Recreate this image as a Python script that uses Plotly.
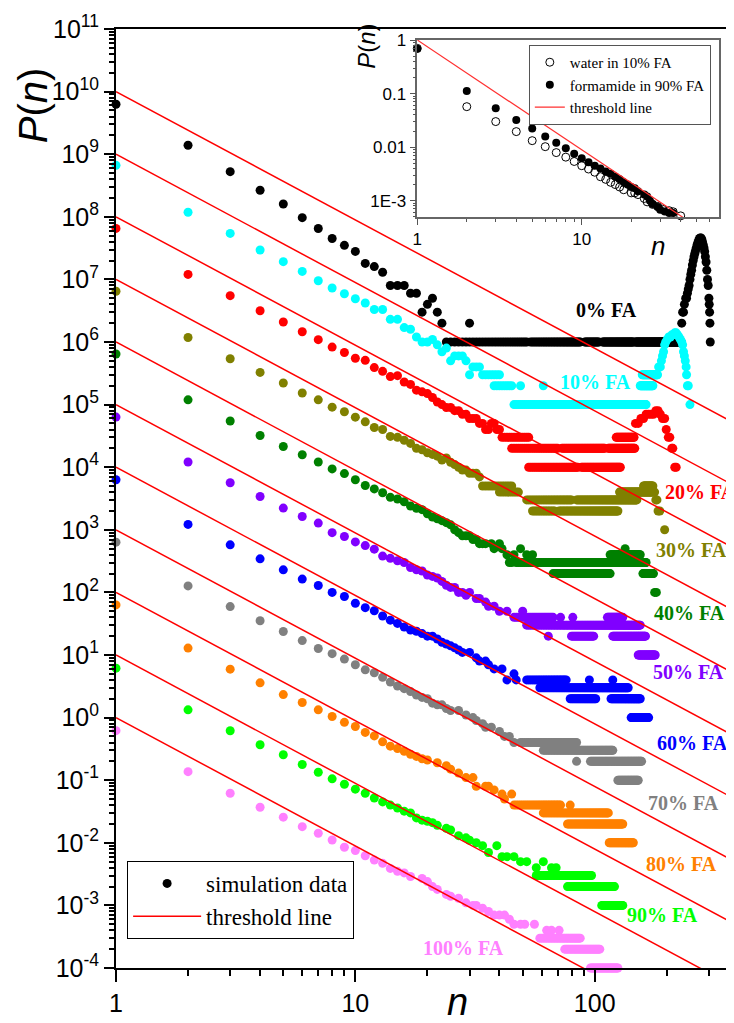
import plotly.graph_objects as go

# ---------------- data ----------------
series_labels = ["0% FA", "10% FA", "20% FA", "30% FA", "40% FA", "50% FA",
                 "60% FA", "70% FA", "80% FA", "90% FA", "100% FA"]
series_colors = ["#000000", "#00FFFF", "#FF0000", "#808000", "#008000", "#8000FF",
                 "#0000FF", "#808080", "#FF8000", "#00FF00", "#FF80FF"]
offset_decades = [10, 9, 8, 7, 6, 5, 4, 3, 2, 1, 0]   # vertical shift of each curve
threshold_exponent = 2.05
threshold_n_span = [1, 500]

# P(n) for n = 1, 2, 3, ... (head of each distribution)
head_00 = [0.627, 0.139, 0.0526, 0.0265, 0.0160, 0.0097, 0.0065, 0.0045, 0.0035, 0.0028,
           0.0018, 0.0016, 0.0013, 0.0008, 0.0008, 0.0008, 0.0006, 0.0006, 0.0003, 0.0004,
           0.0005, 0.0003, 0.0002]
head_10 = [0.664, 0.118, 0.0543, 0.0295, 0.0192, 0.0134, 0.0095, 0.0073, 0.0059, 0.0049,
           0.0042, 0.0033, 0.0033, 0.0023, 0.0023, 0.0017, 0.0016, 0.0012, 0.0010, 0.0010,
           0.0011, 0.0009, 0.0007, 0.0008, 0.0005, 0.0006, 0.0006, 0.0006, 0.0005, 0.0003]
head_20 = [0.653, 0.120, 0.055, 0.0316, 0.0209, 0.0146, 0.0109, 0.0083, 0.0068, 0.0055,
           0.0051, 0.0039, 0.0034, 0.0028, 0.0029, 0.0023, 0.0021, 0.0017, 0.0016, 0.0015,
           0.0013, 0.0011, 0.0010, 0.0009, 0.0009, 0.0008, 0.0008, 0.0007, 0.0007, 0.0006,
           0.0006, 0.0006, 0.0005, 0.0005, 0.0004, 0.0004, 0.0005, 0.0005, 0.0004, 0.0004]
head_30 = [0.646, 0.118, 0.054, 0.0327, 0.0221, 0.0153, 0.0119, 0.0091, 0.0077, 0.0063,
           0.0053, 0.0043, 0.0040, 0.0031, 0.0030, 0.0027, 0.0024, 0.0020, 0.0019, 0.0017,
           0.0016, 0.0015, 0.0013, 0.0014, 0.0012, 0.0011, 0.0010, 0.0009, 0.0009, 0.0008,
           0.0008, 0.0008, 0.0007]
head_40 = [0.643, 0.119, 0.0546, 0.0321, 0.0214, 0.0158, 0.0121, 0.0094, 0.0079, 0.0063,
           0.0051, 0.0045, 0.0039, 0.0033, 0.0031, 0.0028, 0.0024, 0.0022, 0.0021, 0.0018,
           0.0016, 0.0015, 0.0014, 0.0013, 0.0012, 0.0010, 0.0009, 0.0008, 0.0008, 0.0008,
           0.0007, 0.0007, 0.0006, 0.0006, 0.0006]
head_50 = [0.632, 0.121, 0.0564, 0.0340, 0.0222, 0.0163, 0.0128, 0.0090, 0.0078, 0.0064,
           0.0056, 0.0049, 0.0038, 0.0035, 0.0032, 0.0030, 0.0025, 0.0023, 0.0022, 0.0019,
           0.0018, 0.0017, 0.0015, 0.0013, 0.0012, 0.0012, 0.0010, 0.0010, 0.0009, 0.0010]
head_60 = [0.630, 0.122, 0.0575, 0.0344, 0.0229, 0.0163, 0.0129, 0.0100, 0.0086, 0.0067,
           0.0057, 0.0051, 0.0042, 0.0036, 0.0032, 0.0028, 0.0025, 0.0024, 0.0022, 0.0020,
           0.0020, 0.0018, 0.0016, 0.0015, 0.0014, 0.0013, 0.0012, 0.0011]
head_70 = [0.635, 0.127, 0.0594, 0.0352, 0.0237, 0.0170, 0.0127, 0.0105, 0.0086, 0.0070,
           0.0058, 0.0052, 0.0044, 0.0037, 0.0032, 0.0029, 0.0026, 0.0023, 0.0021, 0.0020,
           0.0017, 0.0016, 0.0016, 0.0014, 0.0013]
head_80 = [0.632, 0.129, 0.0594, 0.0359, 0.0233, 0.0174, 0.0133, 0.0104, 0.0084, 0.0072,
           0.0058, 0.0051, 0.0041, 0.0035, 0.0032, 0.0029, 0.0026, 0.0024, 0.0022, 0.0021]
head_90 = [0.617, 0.133, 0.0617, 0.0368, 0.0255, 0.0178, 0.0134, 0.0105, 0.0086, 0.0072,
           0.0062, 0.0052, 0.0045, 0.0040, 0.0036, 0.0032, 0.0030, 0.0025, 0.0023, 0.0022,
           0.0021, 0.0019]
head_100 = [0.619, 0.137, 0.0619, 0.0370, 0.0257, 0.0181, 0.0142, 0.0111, 0.0085, 0.0075,
            0.0062, 0.0053, 0.0047, 0.0039, 0.0035, 0.0033, 0.0029]

# isolated (n, P) points of the tails
points_00 = [(30, 2e-4), (231, 2e-4), (233, 3e-4), (235, 3e-4), (237, 4e-4), (240, 5e-4),
             (242, 5e-4), (244, 6e-4), (246, 7e-4), (248, 8e-4), (250, 1.0e-3), (252, 1.2e-3),
             (254, 1.4e-3), (256, 1.7e-3), (258, 2.0e-3), (260, 2.3e-3), (262, 2.6e-3),
             (264, 2.9e-3), (266, 3.2e-3), (268, 3.6e-3), (270, 3.9e-3), (272, 4.2e-3),
             (274, 4.5e-3), (276, 4.6e-3), (278, 4.6e-3), (280, 4.4e-3), (282, 4.0e-3),
             (284, 3.6e-3), (286, 3.2e-3), (288, 2.8e-3), (290, 2.3e-3), (292, 1.9e-3),
             (294, 1.4e-3), (296, 1.0e-3), (298, 8e-4), (300, 5e-4), (301, 4e-4), (302, 3e-4),
             (303, 2e-4), (304, 1e-4)]
points_10 = [(31, 4e-4), (32, 4e-4), (33, 4e-4), (49, 2e-4), (61, 2e-4), (185, 4e-4),
             (188, 4e-4), (190, 5e-4), (192, 6e-4), (194, 7e-4), (196, 9e-4), (198, 1.0e-3),
             (201, 1.1e-3), (204, 1.2e-3), (207, 1.2e-3), (210, 1.3e-3), (213, 1.3e-3),
             (216, 1.4e-3), (219, 1.4e-3), (222, 1.3e-3), (225, 1.2e-3), (228, 1.1e-3),
             (231, 1.0e-3), (233, 9e-4), (235, 7e-4), (237, 6e-4), (239, 5e-4), (241, 4e-4),
             (242, 3e-4), (244, 2e-4), (246, 2e-4), (250, 1e-4)]
points_20 = [(148, 5e-4), (152, 5e-4), (156, 6e-4), (160, 6e-4), (164, 7e-4), (168, 7e-4),
             (172, 7e-4), (176, 7e-4), (180, 8e-4), (184, 8e-4), (188, 7e-4), (192, 6e-4),
             (196, 6e-4), (199, 4e-4), (203, 3e-4), (206, 3e-4), (210, 2e-4), (212, 2e-4),
             (216, 1e-4), (219, 1e-4)]
points_30 = [(178, 4e-4), (180, 3e-4), (182, 3e-4), (184, 2e-4), (187, 2e-4), (196, 1e-4)]
points_40 = [(37, 6e-4), (38, 5e-4), (40, 6e-4), (41, 5e-4), (43, 4e-4), (44, 3e-4),
             (45, 3e-4), (46, 4e-4), (49, 5e-4), (52, 4e-4), (55, 4e-4), (134, 5e-4),
             (178, 1e-4), (181, 1e-4)]
points_50 = [(32, 8e-4), (33, 8e-4), (35, 7e-4), (36, 6e-4), (38, 6e-4), (40, 5e-4),
             (43, 5e-4), (50, 5e-4), (64, 2e-4), (72, 4e-4), (81, 4e-4)]
points_60 = [(30, 0.0011), (32, 9e-4), (33, 8e-4), (35, 8e-4), (36, 7e-4), (38, 6e-4),
             (41, 6e-4), (43, 4e-4), (46, 5e-4), (47, 4e-4), (95, 4e-4), (119, 4e-4)]
points_70 = [(27, 0.0013), (29, 0.0011), (31, 0.0010), (32, 9e-4), (34, 8e-4), (35, 7e-4),
             (37, 7e-4), (40, 6e-4), (42, 5e-4), (44, 5e-4), (46, 4e-4), (84, 2e-4)]
points_80 = [(22, 0.0019), (24, 0.0017), (25, 0.0015), (27, 0.0013), (29, 0.0011),
             (31, 0.0011), (32, 8e-4), (35, 8e-4), (36, 8e-4), (38, 7e-4), (41, 6e-4),
             (42, 5e-4), (45, 6e-4), (79, 4e-4)]
points_90 = [(24, 0.0017), (25, 0.0016), (27, 0.0013), (29, 0.0012), (30, 0.0011),
             (32, 0.0010), (34, 9e-4), (36, 7e-4), (39, 9e-4), (41, 6e-4), (43, 6e-4),
             (46, 6e-4), (49, 5e-4), (52, 5e-4), (57, 4e-4), (61, 5e-4), (66, 4e-4), (69, 4e-4)]
points_100 = [(19, 0.0027), (20, 0.0024), (21, 0.0020), (22, 0.0018), (24, 0.0015),
              (25, 0.0014), (27, 0.0013), (29, 0.0011), (31, 0.0010), (32, 0.0010),
              (34, 9e-4), (36, 8e-4), (38, 7e-4), (40, 7e-4), (42, 7e-4), (44, 6e-4),
              (46, 5e-4), (49, 5e-4), (51, 5e-4), (56, 5e-4), (63, 4e-4), (66, 4e-4), (71, 4e-4)]

# plateaus: every n from first to last has the same P (first, last, P)
plateaus_00 = [(24, 33, 1e-4), (34, 52, 1e-4), (54, 87, 1e-4), (91, 104, 1e-4),
               (108, 145, 1e-4), (148, 230, 1e-4)]
plateaus_10 = [(34, 40, 3e-4), (38, 45, 2e-4), (46, 164, 1e-4), (155, 175, 2e-4),
               (158, 183, 3e-4)]
plateaus_20 = [(41, 53, 3e-4), (45, 70, 2e-4), (73, 110, 2e-4), (114, 147, 2e-4),
               (53, 85, 1e-4), (88, 128, 1e-4), (123, 146, 3e-4)]
plateaus_30 = [(34, 45, 5e-4), (40, 48, 4e-4), (52, 80, 3e-4), (84, 150, 3e-4),
               (55, 68, 2e-4), (71, 125, 2e-4), (127, 175, 4e-4), (160, 175, 5e-4)]
plateaus_40 = [(47, 164, 3e-4), (116, 155, 4e-4), (67, 116, 2e-4), (159, 176, 2e-4)]
plateaus_50 = [(46, 67, 4e-4), (113, 131, 4e-4), (52, 155, 3e-4), (80, 99, 2e-4),
               (119, 163, 2e-4), (152, 179, 1e-4)]
plateaus_60 = [(52, 76, 4e-4), (59, 138, 3e-4), (79, 101, 2e-4), (117, 155, 2e-4),
               (142, 168, 1e-4)]
plateaus_70 = [(49, 84, 4e-4), (61, 119, 3e-4), (96, 157, 2e-4), (125, 152, 1e-4)]
plateaus_80 = [(46, 72, 4e-4), (61, 114, 3e-4), (77, 131, 2e-4), (115, 145, 1e-4)]
plateaus_90 = [(57, 97, 3e-4), (77, 121, 2e-4), (107, 131, 1e-4)]
plateaus_100 = [(59, 87, 3e-4), (75, 105, 2e-4), (96, 125, 1e-4)]

# inset: cluster size distributions of single components
inset_n_water = [1, 2, 3, 4, 5, 6, 7, 8, 9, 10, 11, 12, 13, 14, 15, 16, 17, 18, 20, 21,
                 22, 24, 25, 27, 29, 31, 34, 36, 40]
inset_p_water = [0.70, 0.057, 0.030, 0.0195, 0.0132, 0.0102, 0.0079, 0.0065, 0.0054, 0.0045,
                 0.0039, 0.0034, 0.0028, 0.0025, 0.0022, 0.0020, 0.0018, 0.0016, 0.0014,
                 0.0014, 0.0013, 0.0011, 0.00095, 0.00085, 0.00078, 0.00069, 0.00065,
                 0.00062, 0.00052]
inset_n_formamide = [1, 2, 3, 4, 5, 6, 7, 8, 9, 10, 11, 12, 13, 14, 15, 16, 17, 18, 19, 20,
                     21, 22, 24, 25, 26, 27, 29, 30, 32, 34, 36]
inset_p_formamide = [0.687, 0.112, 0.053, 0.032, 0.0224, 0.0158, 0.0121, 0.0095, 0.0075,
                     0.0062, 0.0052, 0.0045, 0.0040, 0.0035, 0.0032, 0.0028, 0.0025, 0.0022,
                     0.0020, 0.0018, 0.0017, 0.0015, 0.0013, 0.0012, 0.0010, 0.00087,
                     0.00076, 0.00068, 0.00063, 0.00059, 0.00059]

y_tick_exponents = list(range(-4, 12))

# ---------------- figure ----------------
heads = [head_00, head_10, head_20, head_30, head_40, head_50, head_60, head_70, head_80,
         head_90, head_100]
points = [points_00, points_10, points_20, points_30, points_40, points_50, points_60,
          points_70, points_80, points_90, points_100]
plateaus = [plateaus_00, plateaus_10, plateaus_20, plateaus_30, plateaus_40, plateaus_50,
            plateaus_60, plateaus_70, plateaus_80, plateaus_90, plateaus_100]

fig = go.Figure()

for k in range(len(series_labels)):
    ns = list(range(1, len(heads[k]) + 1))
    ps = list(heads[k])
    for n, p in points[k]:
        ns.append(n)
        ps.append(p)
    for a, b, p in plateaus[k]:
        for n in range(a, b + 1):
            ns.append(n)
            ps.append(p)
    scale = 10.0 ** offset_decades[k]
    fig.add_trace(go.Scatter(
        x=ns, y=[p * scale for p in ps], mode="markers",
        marker=dict(size=9, color=series_colors[k], line=dict(width=0)),
        name="simulation data" if k == 0 else series_labels[k],
        showlegend=(k == 0), legend="legend", cliponaxis=False,
        xaxis="x", yaxis="y"))

tx, ty = [], []
for k in range(len(series_labels)):
    for n in threshold_n_span:
        tx.append(n)
        ty.append(10.0 ** offset_decades[k] * n ** (-threshold_exponent))
    tx.append(None)
    ty.append(None)
fig.add_trace(go.Scatter(x=tx, y=ty, mode="lines", line=dict(color="#FF0000", width=1.5),
                         name="threshold line", legend="legend", xaxis="x", yaxis="y"))

# inset traces
fig.add_trace(go.Scatter(x=inset_n_water, y=inset_p_water, mode="markers",
                         marker=dict(symbol="circle-open", size=8, color="black",
                                     line=dict(width=1, color="black")),
                         name="water in 10% FA", legend="legend2", xaxis="x2", yaxis="y2",
                         cliponaxis=False))
fig.add_trace(go.Scatter(x=inset_n_formamide, y=inset_p_formamide, mode="markers",
                         marker=dict(size=8, color="black"),
                         name="formamide in 90% FA", legend="legend2", xaxis="x2", yaxis="y2",
                         cliponaxis=False))
fig.add_trace(go.Scatter(x=threshold_n_span, y=[n ** (-threshold_exponent) for n in threshold_n_span],
                         mode="lines", line=dict(color="#FF3030", width=1.2),
                         name="threshold line", legend="legend2", xaxis="x2", yaxis="y2"))

sans = "Liberation Sans, Arial, sans-serif"
serif = "Liberation Serif, Times New Roman, serif"

fig.update_layout(
    width=726, height=1015,
    margin=dict(l=108, r=0, t=21, b=55),
    paper_bgcolor="white", plot_bgcolor="white",
    xaxis=dict(type="log", range=[0, 2.582], tickvals=[1, 10, 100], ticktext=["1", "10", "100"],
               ticks="outside", ticklen=12, tickwidth=2, tickcolor="black",
               showline=True, linewidth=2, linecolor="black", mirror=True,
               showgrid=False, zeroline=False,
               tickfont=dict(family=sans, size=25, color="black"),
               minor=dict(ticks="outside", ticklen=6, tickwidth=1.5, tickcolor="black",
                          tickmode="linear", dtick="D1", showgrid=False)),
    yaxis=dict(type="log", range=[-4, 11],
               tickvals=[10.0 ** e for e in y_tick_exponents],
               ticktext=["10<sup>%d</sup>" % e for e in y_tick_exponents],
               ticks="outside", ticklen=10, tickwidth=2, tickcolor="black",
               showline=True, linewidth=2, linecolor="black", mirror=False,
               showgrid=False, zeroline=False,
               tickfont=dict(family=sans, size=25, color="black"),
               minor=dict(ticks="outside", ticklen=5, tickwidth=1.5, tickcolor="black",
                          tickmode="linear", dtick="D1", showgrid=False)),
    xaxis2=dict(type="log", domain=[0.4875, 0.9763], anchor="y2", range=[0, 1.837],
                tickvals=[1, 10], ticktext=["1", "10"],
                ticks="outside", ticklen=6, tickwidth=1, tickcolor="#555555",
                showline=True, linewidth=1.5, linecolor="#666666", mirror=True,
                showgrid=False, zeroline=False,
                tickfont=dict(family=sans, size=17, color="black"),
                minor=dict(ticks="outside", ticklen=3, tickwidth=1, tickcolor="#555555",
                           tickmode="linear", dtick="D1", showgrid=False)),
    yaxis2=dict(type="log", domain=[0.7995, 0.9883], anchor="x2", range=[-3.31, 0.001],
                tickvals=[1, 0.1, 0.01, 0.001], ticktext=["1", "0.1", "0.01", "1E-3"],
                ticks="outside", ticklen=6, tickwidth=1, tickcolor="#555555",
                showline=True, linewidth=1.5, linecolor="#666666", mirror=True,
                showgrid=False, zeroline=False,
                tickfont=dict(family=sans, size=17, color="black"),
                minor=dict(ticks="outside", ticklen=3, tickwidth=1, tickcolor="#555555",
                           tickmode="linear", dtick="D1", showgrid=False)),
    legend=dict(x=0.018, y=0.114, xanchor="left", yanchor="top", bgcolor="white",
                bordercolor="black", borderwidth=1, tracegroupgap=0, itemwidth=68,
                font=dict(family=serif, size=23, color="black")),
    legend2=dict(x=0.668, y=0.983, xanchor="left", yanchor="top", bgcolor="white",
                 bordercolor="#555555", borderwidth=1, tracegroupgap=0,
                 font=dict(family=serif, size=15, color="black")),
    showlegend=True,
)

# curve labels
label_positions = [(0.7937, 0.7008, "center"), (0.7751, 0.6244, "center"),
                   (0.885, 0.5072, "left"), (0.9312, 0.4452, "center"),
                   (0.9288, 0.3784, "center"), (0.926, 0.3155, "center"),
                   (0.9328, 0.2393, "center"), (0.918, 0.1754, "center"),
                   (0.915, 0.1108, "center"), (0.8835, 0.0564, "center"),
                   (0.5628, 0.021, "center")]
for k, (lx, ly, anc) in enumerate(label_positions):
    fig.add_annotation(x=lx, y=ly, xref="paper", yref="paper", text="<b>%s</b>" % series_labels[k],
                       showarrow=False, xanchor=anc, yanchor="middle",
                       font=dict(family=serif, size=20, color=series_colors[k]))

# axis titles
fig.add_annotation(x=-0.134, y=0.919, xref="paper", yref="paper", text="<i>P</i>(<i>n</i>)",
                   showarrow=False, textangle=-90, xanchor="center", yanchor="middle",
                   font=dict(family=sans, size=40, color="black"))
fig.add_annotation(x=0.553, y=-0.036, xref="paper", yref="paper", text="<i>n</i>",
                   showarrow=False, xanchor="center", yanchor="middle",
                   font=dict(family=sans, size=38, color="black"))
fig.add_annotation(x=0.406, y=0.982, xref="paper", yref="paper", text="<i>P</i>(<i>n</i>)",
                   showarrow=False, textangle=-90, xanchor="center", yanchor="middle",
                   font=dict(family=sans, size=24, color="black"))
fig.add_annotation(x=0.877, y=0.769, xref="paper", yref="paper", text="<i>n</i>",
                   showarrow=False, xanchor="center", yanchor="middle",
                   font=dict(family=sans, size=26, color="black"))

fig.write_html("out.html")
